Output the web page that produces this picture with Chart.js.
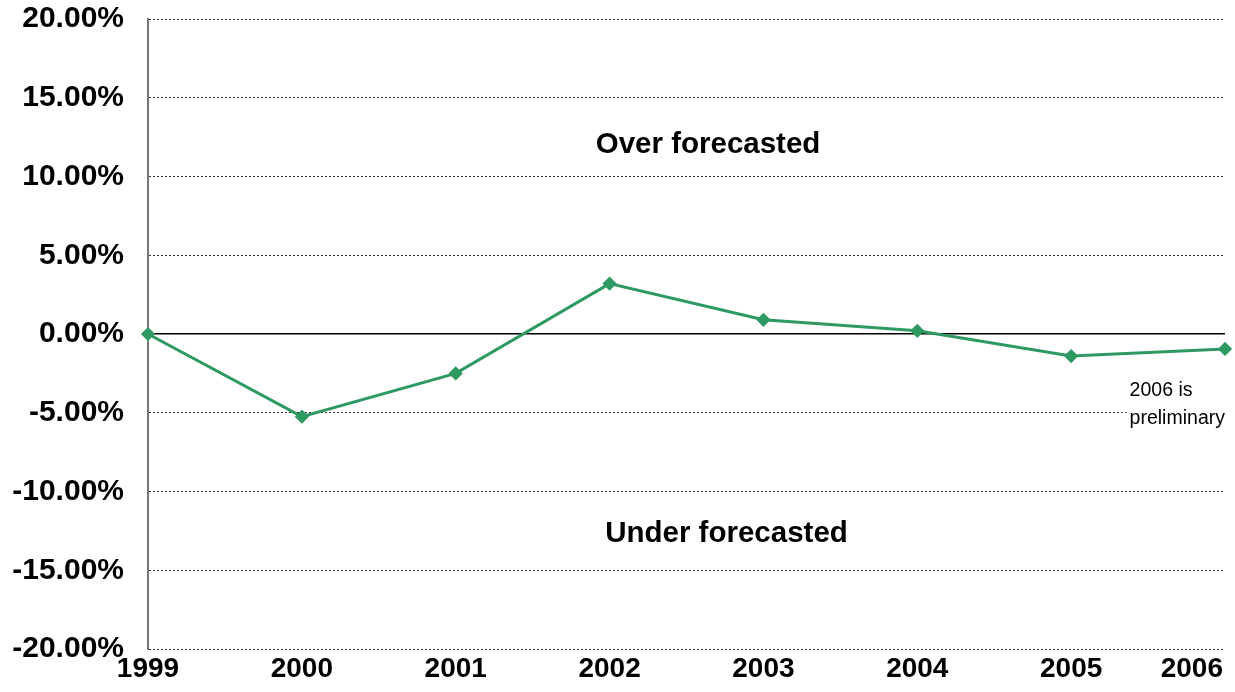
<!DOCTYPE html>
<html>
<head>
<meta charset="utf-8">
<script src="https://cdn.jsdelivr.net/npm/chart.js@4"></script>
<style>
  html, body { margin: 0; padding: 0; background: #fff; }
  #wrap { width: 1235px; height: 692px; position: relative; }
</style>
</head>
<body>
<div id="wrap"><canvas id="errChart"></canvas></div>
<script>
// data
const years = ['1999', '2000', '2001', '2002', '2003', '2004', '2005', '2006'];
const forecastError = [0.0, -5.25, -2.5, 3.2, 0.9, 0.2, -1.4, -0.95];
const yTicks = [20, 15, 10, 5, 0, -5, -10, -15, -20];

// text notes placed in data units
const notes = [
  { text: 'Over forecasted', x: 3.64, y: 12.0 },
  { text: 'Under forecasted', x: 3.76, y: -12.7 }
];

const lineGreen = '#2e9a62';
const boldFont = 'bold 29.5px "Liberation Sans", Arial, sans-serif';

// draws the year labels, last one kept inside the canvas like the original
const yearLabels = {
  id: 'yearLabels',
  afterDraw(chart) {
    const ctx = chart.ctx;
    const xs = chart.scales.x;
    const bottom = chart.chartArea.bottom;
    ctx.save();
    ctx.font = 'bold 28px "Liberation Sans", Arial, sans-serif';
    ctx.fillStyle = '#000';
    ctx.textBaseline = 'middle';
    ctx.textAlign = 'center';
    years.forEach((y, i) => {
      let px = xs.getPixelForValue(i);
      const w = ctx.measureText(y).width;
      if (px + w / 2 > chart.width - 12) px = chart.width - 12 - w / 2;
      ctx.fillText(y, px, bottom + 20);
    });
    ctx.restore();
  }
};

const noteText = {
  id: 'noteText',
  afterDatasetsDraw(chart) {
    const ctx = chart.ctx;
    const xs = chart.scales.x, ys = chart.scales.y;
    ctx.save();
    ctx.fillStyle = '#000';
    ctx.textBaseline = 'middle';
    ctx.textAlign = 'center';
    ctx.font = boldFont;
    notes.forEach(n => {
      ctx.fillText(n.text, xs.getPixelForValue(n.x), ys.getPixelForValue(n.y));
    });
    // small note under the 2006 point, on a white box like the original
    ctx.font = '19.5px "Liberation Sans", Arial, sans-serif';
    ctx.textAlign = 'left';
    const nx = xs.getPixelForValue(6.38);
    const y1 = ys.getPixelForValue(-3.6), y2 = ys.getPixelForValue(-5.35);
    ctx.fillStyle = '#fff';
    ctx.fillRect(nx - 3, y1 - 13, chart.width - nx, y2 - y1 + 26);
    ctx.fillStyle = '#000';
    ctx.fillText('2006 is', nx, y1);
    ctx.fillText('preliminary', nx, y2);
    ctx.restore();
  }
};

new Chart(document.getElementById('errChart'), {
  type: 'line',
  data: {
    labels: years,
    datasets: [{
      data: forecastError,
      borderColor: lineGreen,
      backgroundColor: lineGreen,
      borderWidth: 3,
      pointStyle: 'rectRot',
      pointRadius: 5,
      pointBackgroundColor: lineGreen,
      pointBorderColor: lineGreen,
      tension: 0
    }]
  },
  options: {
    responsive: true,
    maintainAspectRatio: false,
    animation: false,
    layout: { padding: { top: 0, right: 10, left: 0, bottom: 0 } },
    plugins: { legend: { display: false }, tooltip: { enabled: false } },
    scales: {
      x: {
        offset: false,
        grid: { display: false, drawTicks: false },
        border: { display: false },
        ticks: { display: false },
        afterFit(s) { s.height = 43; }
      },
      y: {
        min: -20,
        max: 20,
        afterBuildTicks(s) { s.ticks = yTicks.map(v => ({ value: v })); },
        afterFit(s) {
          s.width = 148;
          s.paddingTop = 19;
          s.paddingBottom = 0;
        },
        grid: {
          drawTicks: false,
          color: ctx => ctx.tick && ctx.tick.value === 0 ? '#000' : '#333',
          lineWidth: ctx => ctx.tick && ctx.tick.value === 0 ? 1.5 : 1
        },
        border: {
          display: true,
          color: '#777',
          width: 2,
          dash: ctx => ctx.tick && ctx.tick.value === 0 ? [] : [2, 2]
        },
        ticks: {
          padding: 24,
          color: '#000',
          font: { family: '"Liberation Sans", Arial, sans-serif', size: 30, weight: 'bold' },
          callback: v => v.toFixed(2) + '%'
        }
      }
    }
  },
  plugins: [yearLabels, noteText]
});
</script>
</body>
</html>
